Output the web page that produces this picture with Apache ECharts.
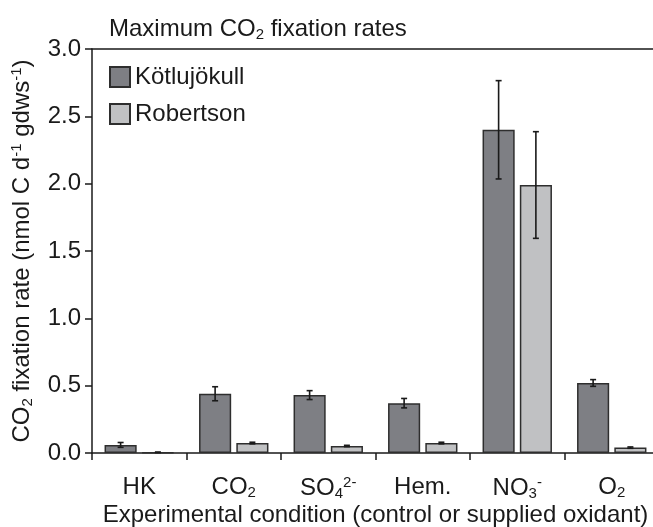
<!DOCTYPE html>
<html><head><meta charset="utf-8">
<script src="https://cdn.jsdelivr.net/npm/echarts@6/dist/echarts.min.js"></script>
<style>html,body{margin:0;padding:0;background:#fff}#c{width:653px;height:527px}</style>
</head><body><div id="c"></div>
<script>
const categories = ['HK', 'CO{sub|2}', 'SO{sub|4}{sup|2-}', 'Hem.', 'NO{sub|3}{sup|-}', 'O{sub|2}'];
const seriesNames = ['Kötlujökull', 'Robertson'];
const kotluMean = [0.06, 0.44, 0.43, 0.37, 2.40, 0.52];
const kotluErr  = [0.018, 0.052, 0.033, 0.035, 0.365, 0.025];
const robMean   = [0.005, 0.074, 0.052, 0.074, 1.99, 0.04];
const robErr    = [0.002, 0.006, 0.005, 0.006, 0.396, 0.005];
const yTickLabels = ['0.0', '0.5', '1.0', '1.5', '2.0', '2.5', '3.0'];

const FONT = '"Liberation Sans", Arial, sans-serif';
const TXT = '#1a1a1a';
const richSS = {
  sub: { fontSize: 15, fontFamily: FONT, color: TXT, padding: [10, 0, 0, 0] },
  sup: { fontSize: 15, fontFamily: FONT, color: TXT, padding: [0, 0, 12, 0] }
};
const BARW = 0.34, GAP = 0.16;

function errSeries(name, mean, err, side) {
  return {
    name: name, type: 'custom', z: 10,
    data: mean.map((m, i) => [i, m - err[i], m + err[i]]),
    encode: { x: 0, y: [1, 2] },
    renderItem: function (params, api) {
      const i = api.value(0);
      const lo = api.coord([i, api.value(1)]);
      const hi = api.coord([i, api.value(2)]);
      const bw = api.size([1, 0])[0];
      const x = lo[0] + side * bw * BARW * (1 + GAP) / 2;
      const cap = 3;
      const st = { stroke: '#1a1a1a', lineWidth: 1.6 };
      return { type: 'group', children: [
        { type: 'line', shape: { x1: x, y1: lo[1], x2: x, y2: hi[1] }, style: st },
        { type: 'line', shape: { x1: x - cap, y1: lo[1], x2: x + cap, y2: lo[1] }, style: st },
        { type: 'line', shape: { x1: x - cap, y1: hi[1], x2: x + cap, y2: hi[1] }, style: st }
      ] };
    }
  };
}

const chart = echarts.init(document.getElementById('c'));
chart.setOption({
  animation: false,
  backgroundColor: '#fff',
  textStyle: { fontFamily: FONT },
  title: {
    text: 'Maximum CO{sub|2} fixation rates',
    left: 104, top: 12,
    textStyle: { fontSize: 24, fontWeight: 'normal', color: TXT, fontFamily: FONT, rich: richSS }
  },
  legend: {
    data: seriesNames, orient: 'vertical', left: 104, top: 60,
    itemWidth: 20, itemHeight: 20, itemGap: 13, icon: 'rect',
    textStyle: { fontSize: 24, color: TXT, fontFamily: FONT }
  },
  grid: { left: 92, width: 567, top: 49, bottom: 74, outerBoundsMode: 'none', containLabel: false },
  xAxis: [{
    type: 'category', data: categories,
    name: 'Experimental condition (control or supplied oxidant)',
    nameLocation: 'middle', nameGap: 50, nameMoveOverlap: false,
    nameTextStyle: { fontSize: 24, color: TXT, fontFamily: FONT },
    axisLine: { lineStyle: { color: '#1a1a1a', width: 1.5 } },
    axisTick: { show: true, interval: 0, length: 7, lineStyle: { color: '#1a1a1a', width: 1.5 } },
    axisLabel: { interval: 0, fontSize: 24, color: TXT, fontFamily: FONT, margin: 22, rich: richSS }
  }, {
    type: 'category', data: categories, position: 'top',
    axisLine: { show: true, lineStyle: { color: '#1a1a1a', width: 1.5 } },
    axisTick: { show: false }, axisLabel: { show: false }
  }],
  yAxis: {
    type: 'value', min: 0, max: 3, interval: 0.5,
    name: 'CO{sub|2} fixation rate (nmol C d{sup|-1} gdws{sup|-1})',
    nameLocation: 'middle', nameGap: 56, nameRotate: 90, nameMoveOverlap: false,
    nameTextStyle: { fontSize: 24, color: TXT, fontFamily: FONT, rich: richSS },
    axisLine: { show: true, lineStyle: { color: '#1a1a1a', width: 1.5 } },
    axisTick: { show: true, length: 7, lineStyle: { color: '#1a1a1a', width: 1.5 } },
    splitLine: { show: false },
    axisLabel: { fontSize: 24, color: TXT, fontFamily: FONT, margin: 11,
      formatter: v => yTickLabels[Math.round(v / 0.5)] }
  },
  series: [
    { name: seriesNames[0], type: 'bar', data: kotluMean, barWidth: (BARW * 100) + '%', barGap: (GAP * 100) + '%',
      itemStyle: { color: '#7e7f84', borderColor: '#2e2e2e', borderWidth: 1.5 } },
    { name: seriesNames[1], type: 'bar', data: robMean, barWidth: (BARW * 100) + '%', barGap: (GAP * 100) + '%',
      itemStyle: { color: '#c0c1c3', borderColor: '#2e2e2e', borderWidth: 1.5 } },
    errSeries('errK', kotluMean, kotluErr, -1),
    errSeries('errR', robMean, robErr, 1)
  ]
});
</script></body></html>
